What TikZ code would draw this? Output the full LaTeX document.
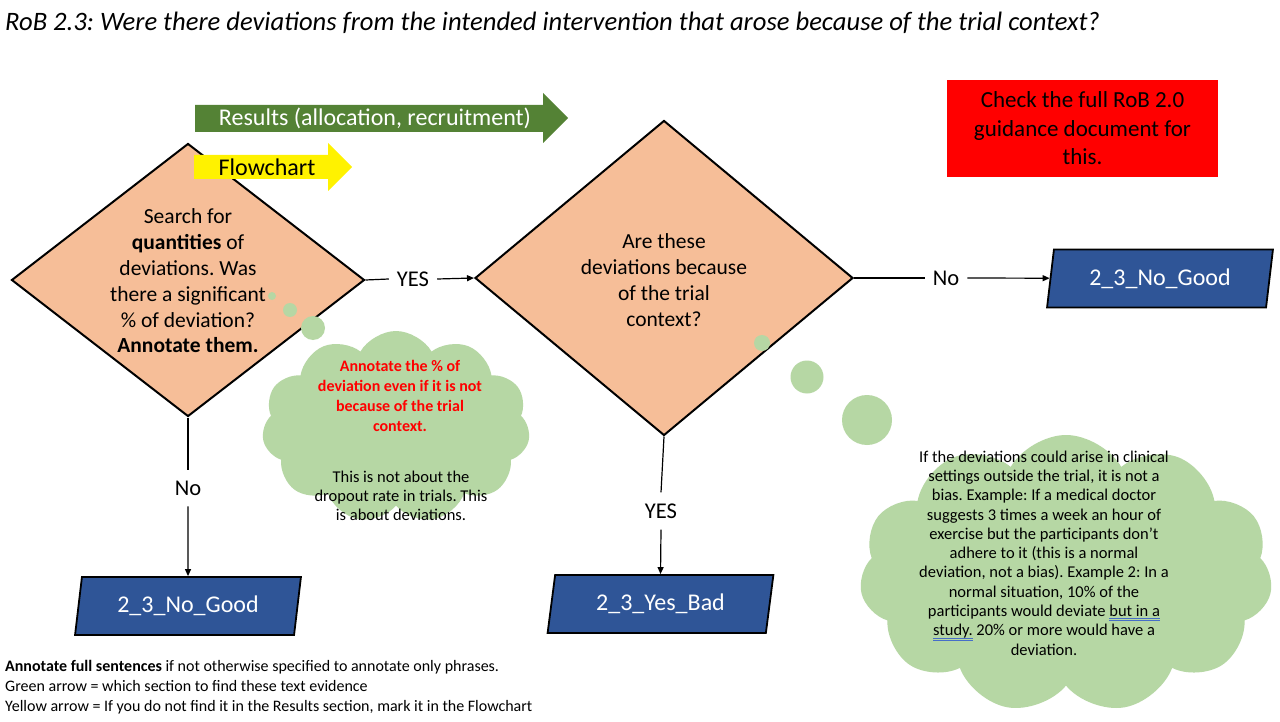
\documentclass[tikz,border=0pt]{standalone}
\usepackage{fontspec}
\setmainfont{Carlito}
\usetikzlibrary{shapes.geometric,shapes.symbols,arrows.meta}
\definecolor{peach}{RGB}{246,190,152}
\definecolor{cloudgreen}{RGB}{182,215,164}
\definecolor{arrowgreen}{RGB}{84,130,53}
\definecolor{pblue}{RGB}{47,85,151}
\definecolor{ulblue}{RGB}{70,110,200}
\newcommand\dblul[1]{\leavevmode\setbox0\hbox{#1}\rlap{\color{ulblue}\rule[-2.6pt]{\wd0}{0.7pt}\kern-\wd0\rule[-4.6pt]{\wd0}{0.7pt}}\box0\relax}
\frenchspacing
\tikzset{
  dia/.style={diamond, draw=black, line width=2pt, fill=peach, inner sep=0pt},
  para/.style={trapezium, trapezium left angle=77, trapezium right angle=103,
    trapezium stretches=true, draw=black, line width=1.8pt, fill=pblue, text=white,
    font=\fontsize{24}{28}\selectfont, minimum width=226pt, minimum height=58pt, inner sep=0pt},
  lbl/.style={font=\fontsize{22.5}{26}\selectfont, inner xsep=8pt, inner ysep=11pt},
  plain/.style={line width=1.2pt},
  conn/.style={line width=1.2pt, -{Triangle[length=7pt,width=6pt]}},
  cloudsty/.style={cloud, cloud puffs=11, cloud puff arc=120, cloud ignores aspect,
    fill=cloudgreen, draw=none, inner sep=0pt},
  bubble/.style={circle, fill=cloudgreen, draw=none, inner sep=0pt},
  dtext/.style={align=center, font=\fontsize{21.5}{25.8}\selectfont, inner sep=0pt},
  ctext/.style={align=center, font=\fontsize{16.5}{19.3}\selectfont, inner sep=0pt}
}
\begin{document}
\begin{tikzpicture}[x=1pt,y=-1pt]
\useasboundingbox (0,0) rectangle (1280,722);
\fill[white] (0,0) rectangle (1280,722);

% title
\node[anchor=base west, inner sep=0pt, font=\fontsize{26.6}{30}\selectfont\itshape] (title) at (5,31)
  {RoB 2.3: Were there deviations from the intended intervention that arose because of the trial context?};

% diamonds
\node[dia, minimum width=353pt, minimum height=273pt] (d1) at (188,280) {};
\node[dtext] (d1t) at (188,281) {Search for\\\textbf{quantities} of\\deviations. Was\\there a significant\\\% of deviation?\\\textbf{Annotate them.}};
\node[dia, minimum width=378pt, minimum height=315pt] (d2) at (664,278) {};
\node[dtext] (d2t) at (664,280) {Are these\\deviations because\\of the trial\\context?};

% section arrows
\fill[arrowgreen] (195,105) -- (543,105) -- (543,93) -- (568,118) -- (543,143) -- (543,132) -- (195,132) -- cycle;
\node[text=white, font=\fontsize{24}{28}\selectfont, inner sep=0pt] (results) at (375,118) {Results (allocation, recruitment)};
\fill[yellow] (194,155) -- (328,155) -- (328,143) -- (352,167) -- (328,191) -- (328,179) -- (194,179) -- cycle;
\node[font=\fontsize{24}{28}\selectfont, inner sep=0pt] (flow) at (267,167) {Flowchart};

% red box
\node[fill=red, minimum width=271pt, minimum height=97pt, inner sep=0pt, align=center,
  font=\fontsize{23}{28.5}\selectfont] (check) at (1082.5,128.5)
  {Check the full RoB 2.0\\guidance document for\\this.};

% outcome boxes
\node[para] (p1) at (188,606) {2\_3\_No\_Good};
\node[para] (p2) at (660.5,604) {2\_3\_Yes\_Bad};
\node[para] (p3) at (1160,278.5) {2\_3\_No\_Good};

% labels
\node[lbl] (yes1) at (413,279) {YES};
\node[lbl] (no2) at (946,278) {No};
\node[lbl] (no1) at (188,488) {No};
\node[lbl] (yes2) at (661,511) {YES};

% connectors
\draw[plain] (d1.east) -- (yes1.west);
\draw[conn] (yes1.east) -- (d2.west);
\draw[plain] (d2.east) -- (no2.west);
\draw[conn] (no2.east) -- (p3);
\draw[plain] (d1.south) -- (no1.north);
\draw[conn] (no1.south) -- (p1.north);
\draw[plain] (d2.south) -- (yes2.north);
\draw[conn] (yes2.south) -- (p2.north);

% cloud 1
\node[bubble, minimum size=8pt] (b11) at (272,296) {};
\node[bubble, minimum size=14pt] (b12) at (290,310) {};
\node[bubble, minimum size=24pt] (b13) at (313,328) {};
\node[cloudsty, minimum width=268pt, minimum height=192pt] (c1) at (396,427) {};
\node[ctext, text=red, font=\fontsize{16}{20}\selectfont\bfseries] (c1a) at (400,396)
  {Annotate the \% of\\deviation even if it is not\\because of the trial\\context.};
\node[ctext] (c1b) at (401,496) {This is not about the\\dropout rate in trials. This\\is about deviations.};

% cloud 2
\node[bubble, minimum size=16pt] (b21) at (762,343) {};
\node[bubble, minimum size=33pt] (b22) at (807,377) {};
\node[bubble, minimum size=50pt] (b23) at (867,420) {};
\node[cloudsty, minimum width=413pt, minimum height=278pt] (c2) at (1066,574) {};
\node[ctext] (c2t) at (1044,553)
  {If the deviations could arise in clinical\\settings outside the trial, it is not a\\bias. Example: If a medical doctor\\suggests 3 times a week an hour of\\exercise but the participants don’t\\adhere to it (this is a normal\\deviation, not a bias). Example 2: In a\\normal situation, 10\% of the\\participants would deviate \dblul{but in a}\\\dblul{study.} 20\% or more would have a\\deviation.};

% notes
\node[anchor=north west, align=left, inner sep=0pt, font=\fontsize{16}{20}\selectfont] (notes) at (5,660)
  {\textbf{Annotate full sentences} if not otherwise specified to annotate only phrases.\\
   Green arrow = which section to find these text evidence\\
   Yellow arrow = If you do not find it in the Results section, mark it in the Flowchart};
\end{tikzpicture}
\end{document}
